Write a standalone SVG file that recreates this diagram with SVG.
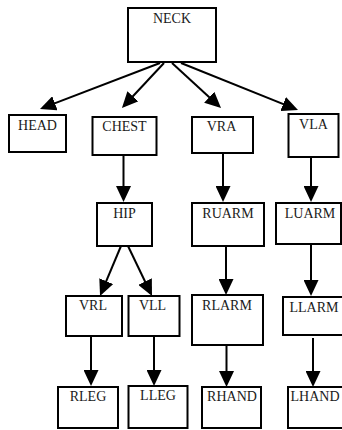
<svg xmlns="http://www.w3.org/2000/svg" width="342" height="430" viewBox="0 0 342 430">
<style>
rect{fill:#fff;stroke:#000;stroke-width:2}
text{font-family:"Liberation Serif","Times New Roman",serif;font-size:14px;fill:#1a1a1a;text-anchor:middle}
.c line{stroke:#000;stroke-width:2;marker-end:url(#ah)}
</style>
<defs>
<marker id="ah" markerUnits="userSpaceOnUse" markerWidth="16" markerHeight="15" viewBox="0 0 16 15" refX="13" refY="7.5" orient="auto">
<path d="M0,0 L16,7.5 L0,15 z" fill="#000"/>
</marker>
</defs>
<rect width="342" height="430" style="stroke:none;fill:#fff"/>
<g class="c" id="connectors">
<line x1="160" y1="63" x2="42.8" y2="107.9"/>
<line x1="164" y1="63" x2="124" y2="105.8"/>
<line x1="172" y1="63" x2="218.8" y2="106"/>
<line x1="181" y1="63" x2="295.2" y2="108.9"/>
<line x1="123.5" y1="155" x2="123.5" y2="199"/>
<line x1="223" y1="153" x2="223" y2="199"/>
<line x1="311" y1="157" x2="311" y2="199"/>
<line x1="121" y1="246" x2="101.2" y2="293.2"/>
<line x1="128" y1="246" x2="150.7" y2="293.3"/>
<line x1="226" y1="246" x2="226" y2="292"/>
<line x1="311" y1="244" x2="311" y2="293"/>
<line x1="91" y1="336" x2="91" y2="383"/>
<line x1="154" y1="336" x2="154" y2="383"/>
<line x1="226.5" y1="345" x2="226.5" y2="384"/>
<line x1="313" y1="338" x2="313" y2="384"/>
</g>
<g id="NECK"><rect x="128" y="8" width="88" height="54"/><text x="172" y="23">NECK</text></g>
<g id="HEAD"><rect x="9" y="115" width="57" height="37"/><text x="37.5" y="130">HEAD</text></g>
<g id="CHEST"><rect x="92.5" y="117" width="64" height="38"/><text x="124.5" y="131">CHEST</text></g>
<g id="VRA"><rect x="192" y="117" width="61" height="36"/><text x="221.5" y="131">VRA</text></g>
<g id="VLA"><rect x="288.5" y="114" width="50" height="43"/><text x="313.5" y="129">VLA</text></g>
<g id="HIP"><rect x="97" y="203" width="55" height="43"/><text x="124.5" y="217.5">HIP</text></g>
<g id="RUARM"><rect x="192" y="203" width="72" height="43"/><text x="228" y="218">RUARM</text></g>
<g id="LUARM"><rect x="276" y="203" width="65" height="41"/><text x="310" y="218">LUARM</text></g>
<g id="VRL"><rect x="66" y="296" width="56" height="40"/><text x="93" y="310">VRL</text></g>
<g id="VLL"><rect x="128.5" y="296" width="51" height="40"/><text x="152.5" y="310">VLL</text></g>
<g id="RLARM"><rect x="192" y="295" width="71" height="50"/><text x="227" y="310">RLARM</text></g>
<g id="LLARM"><rect x="283" y="297" width="62" height="38"/><text x="314" y="312">LLARM</text></g>
<g id="RLEG"><rect x="58" y="387" width="60" height="41"/><text x="88" y="401">RLEG</text></g>
<g id="LLEG"><rect x="128.5" y="386" width="59" height="42"/><text x="158" y="400">LLEG</text></g>
<g id="RHAND"><rect x="202" y="387" width="59" height="41"/><text x="232" y="401">RHAND</text></g>
<g id="LHAND"><rect x="288" y="387" width="56" height="41"/><text x="315" y="401">LHAND</text></g>
</svg>
